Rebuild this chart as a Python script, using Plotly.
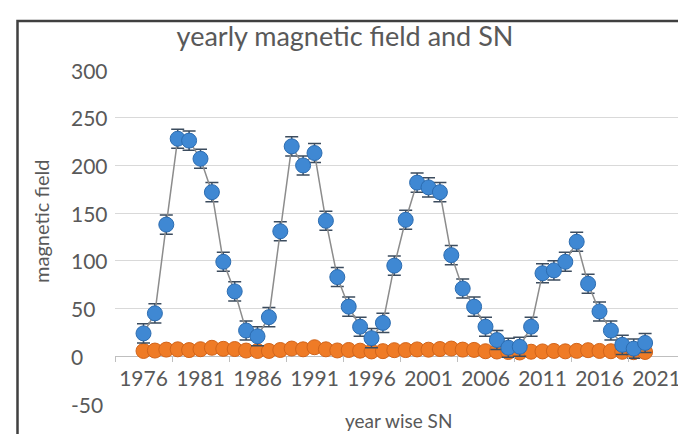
import plotly.graph_objects as go

# ---- data ----
years = [1976, 1977, 1978, 1979, 1980, 1981, 1982, 1983, 1984, 1985,
         1986, 1987, 1988, 1989, 1990, 1991, 1992, 1993, 1994, 1995,
         1996, 1997, 1998, 1999, 2000, 2001, 2002, 2003, 2004, 2005,
         2006, 2007, 2008, 2009, 2010, 2011, 2012, 2013, 2014, 2015,
         2016, 2017, 2018, 2019, 2020]
sn_values = [24, 45, 138, 228, 226, 207, 172, 99, 68, 27,
             21, 41, 131, 220, 200, 213, 142, 83, 52, 31,
             19, 35, 95, 143, 182, 177, 172, 106, 71, 52,
             31, 17, 9, 10, 31, 87, 90, 99, 120, 76,
             47, 27, 12, 8, 14]
field_values = [5.6, 6.0, 7.0, 7.3, 6.5, 7.4, 8.9, 7.8, 7.6, 6.0,
                5.6, 5.6, 6.6, 8.1, 7.3, 9.5, 7.3, 6.1, 6.6, 5.9,
                5.1, 5.4, 6.4, 6.5, 7.2, 6.9, 7.6, 8.1, 7.0, 6.7,
                5.3, 5.0, 4.5, 4.0, 4.8, 5.1, 5.6, 5.2, 5.7, 6.4,
                5.6, 5.3, 4.7, 4.3, 4.5]
sn_error = 10
x_label_years = [1976, 1981, 1986, 1991, 1996, 2001, 2006, 2011, 2016, 2021]
x_tick_marks = [1973.5, 1978.5, 1983.5, 1988.5, 1993.5, 1998.5, 2003.5,
                2008.5, 2013.5, 2018.5, 2023.5]
y_ticks = [-50, 0, 50, 100, 150, 200, 250, 300]

title_text = "yearly magnetic field and SN"
x_title = "year wise SN"
y_title = "magnetic field"

# ---- layout geometry ----
W, H = 686, 434
L, R, T, B = 107, 9, 62, 38
PW, PH = W - L - R, H - T - B
X_RANGE = [1973.5, 2023.5]
Y_RANGE = [-50, 300]
FONT = "Lato"
TXT = "#595959"


def px_x(px):
    return (px - L) / PW


def px_y(py):
    return (H - B - py) / PH


fig = go.Figure()

fig.add_trace(go.Scatter(
    x=years, y=field_values, mode="markers+lines", name="field",
    line=dict(color="#ed7d31", width=1.5),
    marker=dict(size=15, color="#ef7b26", line=dict(color="#d2641a", width=1)),
    showlegend=False, hoverinfo="x+y",
))

fig.add_trace(go.Scatter(
    x=years, y=sn_values, mode="markers+lines", name="SN",
    line=dict(color="#8c8c8c", width=1.5),
    marker=dict(size=15, color="#3f88d3", line=dict(color="#2c6cb0", width=1)),
    error_y=dict(type="constant", value=sn_error, color="#3c4c5e",
                 thickness=1.5, width=6.5),
    showlegend=False, hoverinfo="x+y",
))

# invisible trace so the tick-mark axis exists
fig.add_trace(go.Scatter(x=[X_RANGE[0]], y=[None], xaxis="x2", yaxis="y",
                         mode="markers", showlegend=False, hoverinfo="skip"))

axis_pos = (0 - Y_RANGE[0]) / (Y_RANGE[1] - Y_RANGE[0])

fig.update_layout(
    width=W, height=H,
    margin=dict(l=L, r=R, t=T, b=B),
    paper_bgcolor="white", plot_bgcolor="white",
    font=dict(family=FONT, color=TXT),
    title=dict(text=title_text, x=337 / W, xanchor="center",
               y=1 - 29 / H, yanchor="middle",
               font=dict(size=27, color=TXT, family=FONT)),
    xaxis=dict(range=X_RANGE, tickvals=x_label_years,
               ticktext=[str(v) for v in x_label_years],
               ticks="", showgrid=False, zeroline=False, showline=False,
               anchor="free", position=axis_pos,
               ticklabelstandoff=8,
               tickfont=dict(size=21, color=TXT, family=FONT)),
    xaxis2=dict(range=X_RANGE, overlaying="x", anchor="free", position=axis_pos,
                tickvals=x_tick_marks, ticks="outside", ticklen=5,
                tickcolor="#bfbfbf", tickwidth=1, showticklabels=False,
                showgrid=False, zeroline=False, showline=False),
    yaxis=dict(range=Y_RANGE, tickvals=y_ticks, showticklabels=False,
               showgrid=True, gridcolor="#d9d9d9", gridwidth=1,
               zeroline=True, zerolinecolor="#bfbfbf", zerolinewidth=1.2,
               showline=False, ticks=""),
)

annotations = []
for v in y_ticks:
    annotations.append(dict(
        x=px_x(61), xref="paper", y=v, yref="y", text=str(v),
        showarrow=False, xanchor="left", yanchor="middle",
        font=dict(size=21, color=TXT, family=FONT)))
annotations.append(dict(
    x=px_x(390), xref="paper", y=px_y(413), yref="paper", text=x_title,
    showarrow=False, xanchor="center", yanchor="middle",
    font=dict(size=19, color=TXT, family=FONT)))
annotations.append(dict(
    x=px_x(33), xref="paper", y=px_y(214), yref="paper", text=y_title,
    textangle=-90, showarrow=False, xanchor="center", yanchor="middle",
    font=dict(size=20, color=TXT, family=FONT)))
fig.update_layout(annotations=annotations)

# chart-area border
fig.add_shape(type="rect", xref="paper", yref="paper",
              x0=px_x(9.5), x1=px_x(685), y0=px_y(450), y1=px_y(13),
              line=dict(color="#404040", width=2.5), fillcolor="rgba(0,0,0,0)",
              layer="above")

fig.write_html("out.html")
